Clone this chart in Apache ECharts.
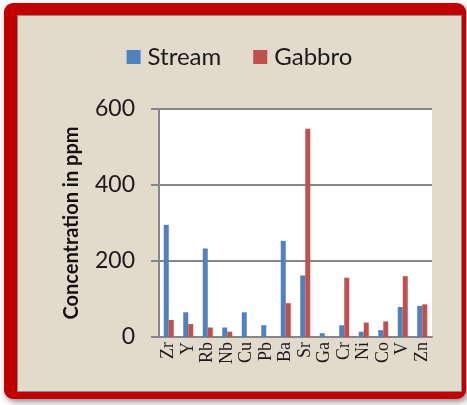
<!DOCTYPE html>
<html>
<head>
<meta charset="utf-8">
<script src="https://cdn.jsdelivr.net/npm/echarts@6/dist/echarts.min.js"></script>
<style>
    html, body { margin: 0; padding: 0; background: #ffffff; }
    .frame {
        position: absolute; left: 4px; top: 3px; width: 462px; height: 396px;
        background: #c00000; border-radius: 9px;
        box-shadow: 2px 3px 6px rgba(0, 0, 0, 0.45);
    }
    #chart {
        position: absolute; left: 13px; top: 12px; width: 443px; height: 375px;
        border: 1px solid #8a8a8a;
        background: #e2dacb;
    }
</style>
</head>
<body>
<div class="frame"><div id="chart"></div></div>
<script>
    // 元素
    var elements = ['Zr', 'Y', 'Rb', 'Nb', 'Cu', 'Pb', 'Ba', 'Sr', 'Ga', 'Cr', 'Ni', 'Co', 'V', 'Zn'];
    var stream = [295, 65, 233, 25, 65, 31, 253, 162, 10, 31, 14, 18, 79, 82];
    var gabbro = [45, 34, 25, 14, 0, 0, 89, 548, 0, 156, 38, 41, 160, 86];
    var yTicks = [0, 200, 400, 600];

    var chart = echarts.init(document.getElementById('chart'));
    chart.setOption({
        animation: false,
        color: ['#4f81bd', '#c0504d'],
        legend: {
            top: 24,
            left: 'center',
            itemWidth: 14,
            itemHeight: 14,
            itemGap: 32,
            icon: 'rect',
            textStyle: { fontFamily: 'Lato', fontSize: 24, color: '#1a1a1a', padding: [0, 0, 0, 2] },
            data: ['Stream', 'Gabbro']
        },
        grid: {
            left: 141,
            right: 29,
            top: 93,
            bottom: 54,
            show: true,
            backgroundColor: '#ffffff',
            borderWidth: 0
        },
        xAxis: {
            type: 'category',
            data: elements,
            axisLine: { lineStyle: { color: '#868686', width: 2 } },
            axisTick: { show: false },
            axisLabel: {
                rotate: 90,
                margin: 5,
                fontFamily: 'Liberation Serif',
                fontSize: 18,
                color: '#1a1a1a',
                interval: 0
            }
        },
        yAxis: {
            type: 'value',
            min: yTicks[0],
            max: yTicks[yTicks.length - 1],
            interval: 200,
            name: 'Concentration in ppm',
            nameLocation: 'middle',
            nameGap: 77,
            nameTextStyle: { fontFamily: 'Lato', fontSize: 20, fontWeight: 'bold', color: '#111' },
            axisLine: { show: true, lineStyle: { color: '#868686', width: 2 } },
            axisTick: { show: true, length: 8, lineStyle: { color: '#868686', width: 2 } },
            axisLabel: { margin: 24, fontFamily: 'Lato', fontSize: 23, color: '#1a1a1a' },
            splitLine: { lineStyle: { color: '#868686', width: 2 } }
        },
        series: [{
            name: 'Stream',
            type: 'bar',
            data: stream,
            barWidth: 5,
            barGap: '0%'
        }, {
            name: 'Gabbro',
            type: 'bar',
            data: gabbro,
            barWidth: 5,
            barGap: '0%'
        }]
    });
</script>
</body>
</html>
